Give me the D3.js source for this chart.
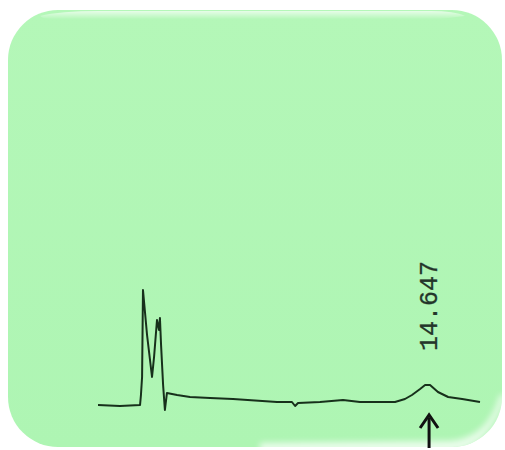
<!DOCTYPE html>
<html><head><meta charset="utf-8">
<script src="https://cdn.jsdelivr.net/npm/d3@7"></script>
<style>html,body{margin:0;padding:0;background:#fff;}svg{display:block;}</style>
</head><body>
<script>
// Retention time (min) and detector signal (arbitrary units)
const times = [0, 0.97, 1.86, 1.90, 1.95, 1.99, 2.17, 2.39, 2.48, 2.61, 2.70, 2.74, 2.79, 2.88, 2.96, 3.05, 3.50, 4.07, 4.96, 5.97, 7.92, 8.58, 8.72, 8.85, 9.82, 10.84, 11.59, 13.14, 13.58, 13.89, 14.25, 14.47, 14.69, 15.04, 15.49, 16.11, 16.90];
const signal = [1, 0, 1, 11, 29, 116, 71, 29, 49, 86, 76, 88, 61, 21, -4, 13, 11, 9, 8, 7, 4, 4, 0, 3, 4, 6, 4, 4, 7, 11, 17, 21, 21, 14, 9, 7, 4];
const peakLabels = ["14.647"];
const peakTimes = [14.647];

const W = 505, H = 450;
const svg = d3.select("body").append("svg").attr("width", W).attr("height", H);
const defs = svg.append("defs");
const g1 = defs.append("linearGradient").attr("id","bg").attr("x1",0).attr("y1",0).attr("x2",0).attr("y2",1);
g1.append("stop").attr("offset","0").attr("stop-color","#b4f7b8");
g1.append("stop").attr("offset","1").attr("stop-color","#aef5b3");
const g2 = defs.append("linearGradient").attr("id","gloss").attr("x1",0).attr("y1",0).attr("x2",0).attr("y2",1);
g2.append("stop").attr("offset","0").attr("stop-color","#ffffff").attr("stop-opacity",0.85);
g2.append("stop").attr("offset","1").attr("stop-color","#ffffff").attr("stop-opacity",0);
defs.append("filter").attr("id","blur").attr("x","-20%").attr("y","-50%").attr("width","140%").attr("height","200%")
  .append("feGaussianBlur").attr("stdDeviation",3);
defs.append("clipPath").attr("id","card").append("rect")
  .attr("x",8).attr("y",10).attr("width",494).attr("height",437).attr("rx",50).attr("ry",50);

svg.append("rect").attr("x",8).attr("y",10).attr("width",494).attr("height",437)
  .attr("rx",50).attr("ry",50).attr("fill","url(#bg)");
const glowG = svg.append("g").attr("clip-path","url(#card)");
glowG.append("path").attr("d","M260,452 L450,452 Q490,448 506,395 L500,395 Q488,438 450,441 L260,443 Z")
  .attr("fill","#ffffff").attr("opacity",0.75).attr("filter","url(#blur)");
svg.append("path").attr("d","M40,16 Q60,11 100,11 L430,11 Q455,11 465,16 L440,19 L60,19 Q45,20 40,16 Z")
  .attr("fill","url(#gloss)").attr("opacity",0.8);

const x = d3.scaleLinear().domain([0, 16.9]).range([98, 480]);
const y = d3.scaleLinear().domain([0, 116]).range([406, 290]);

const data = times.map((t,i)=>({t, s: signal[i]}));
const line = d3.line().x(d=>x(d.t)).y(d=>y(d.s));
svg.append("path").datum(data).attr("d", line)
  .attr("fill","none").attr("stroke","#17301b").attr("stroke-width",2)
  .attr("stroke-linejoin","round");

peakLabels.forEach((lab,i)=>{
  const px = x(peakTimes[i]);
  svg.append("text").attr("transform",`translate(${px+8},351) rotate(-90)`)
    .attr("font-family","'Liberation Mono', 'DejaVu Sans Mono', monospace")
    .attr("font-size",25).attr("fill","#24352a").attr("stroke","#24352a").attr("stroke-width",0.3).text(lab);
  // arrow
  svg.append("line").attr("x1",px).attr("x2",px).attr("y1",418).attr("y2",448)
    .attr("stroke","#111").attr("stroke-width",3);
  svg.append("path").attr("d",`M${px-9},428 L${px},415 L${px+9},428`)
    .attr("fill","none").attr("stroke","#111").attr("stroke-width",3);
});
</script>
</body></html>
